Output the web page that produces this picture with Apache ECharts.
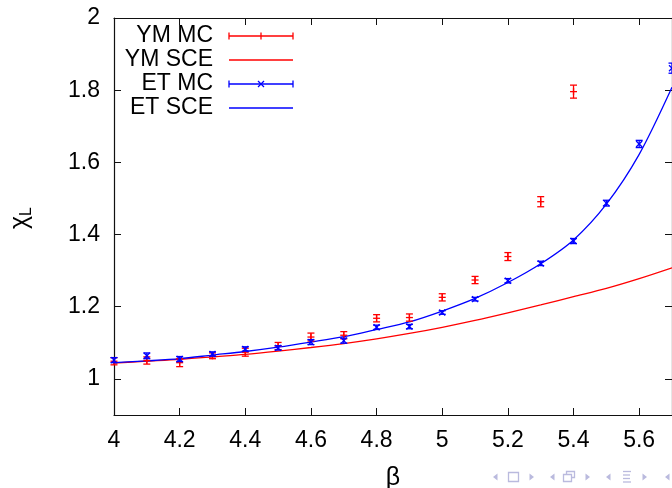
<!DOCTYPE html>
<html>
<head>
<meta charset="utf-8">
<script src="https://cdn.jsdelivr.net/npm/echarts@6/dist/echarts.min.js"></script>
<style>html,body{margin:0;padding:0;background:#fff}#c{width:672px;height:488px}</style>
</head>
<body>
<div id="c"></div>
<script>
// ---- data ----
const betaYM = [4.0, 4.1, 4.2, 4.3, 4.4, 4.5, 4.6, 4.7, 4.8, 4.9, 5.0, 5.1, 5.2, 5.3, 5.4];
const ymMC   = [1.049, 1.051, 1.045, 1.064, 1.074, 1.091, 1.116, 1.121, 1.168, 1.170, 1.226, 1.274, 1.339, 1.491, 1.796];
const ymErr  = [0.010, 0.010, 0.011, 0.008, 0.011, 0.010, 0.011, 0.010, 0.010, 0.010, 0.010, 0.010, 0.011, 0.014, 0.018];

const betaET = [4.0, 4.1, 4.2, 4.3, 4.4, 4.5, 4.6, 4.7, 4.8, 4.9, 5.0, 5.1, 5.2, 5.3, 5.4, 5.5, 5.6, 5.7];
const etMC   = [1.052, 1.064, 1.055, 1.069, 1.083, 1.086, 1.102, 1.106, 1.143, 1.145, 1.184, 1.221, 1.272, 1.320, 1.382, 1.487, 1.651, 1.861];
const etErr  = [0.007, 0.008, 0.007, 0.006, 0.006, 0.006, 0.007, 0.007, 0.006, 0.006, 0.005, 0.005, 0.006, 0.006, 0.007, 0.008, 0.010, 0.014];

const betaSCE = [4.0, 4.1, 4.2, 4.3, 4.4, 4.5, 4.6, 4.7, 4.8, 4.9, 5.0, 5.1, 5.2, 5.3, 5.4, 5.5, 5.6, 5.7];
const ymSCE   = [1.044, 1.049, 1.054, 1.061, 1.068, 1.077, 1.087, 1.098, 1.111, 1.126, 1.143, 1.162, 1.183, 1.205, 1.228, 1.251, 1.278, 1.308];
const etSCE   = [1.045, 1.050, 1.056, 1.066, 1.076, 1.088, 1.102, 1.117, 1.137, 1.158, 1.188, 1.223, 1.267, 1.319, 1.385, 1.484, 1.622, 1.808];

const xTicks = [4, 4.2, 4.4, 4.6, 4.8, 5, 5.2, 5.4, 5.6];
const yTicks = [1, 1.2, 1.4, 1.6, 1.8, 2];
const legendNames = ['YM MC', 'YM SCE', 'ET MC', 'ET SCE'];

const RED = '#ff0000', BLUE = '#0000ff';
const FONT = 'Liberation Sans';

function zip3(xs, ys, es) { return xs.map((x, i) => [x, ys[i], es[i]]); }
function zip2(xs, ys) { return xs.map((x, i) => [x, ys[i]]); }

function errRender(color, marker) {
  return function (params, api) {
    const x = api.value(0), y = api.value(1), e = api.value(2);
    const p = api.coord([x, y]);
    const lo = api.coord([x, y - e]);
    const hi = api.coord([x, y + e]);
    const cw = 3.5;
    const st = { stroke: color, lineWidth: 1.3 };
    const ch = [
      { type: 'line', shape: { x1: p[0], y1: lo[1], x2: p[0], y2: hi[1] }, style: st },
      { type: 'line', shape: { x1: p[0] - cw, y1: lo[1], x2: p[0] + cw, y2: lo[1] }, style: st },
      { type: 'line', shape: { x1: p[0] - cw, y1: hi[1], x2: p[0] + cw, y2: hi[1] }, style: st }
    ];
    if (marker === '+') {
      ch.push({ type: 'line', shape: { x1: p[0] - 3.5, y1: p[1], x2: p[0] + 3.5, y2: p[1] }, style: st });
      ch.push({ type: 'line', shape: { x1: p[0], y1: p[1] - 3.5, x2: p[0], y2: p[1] + 3.5 }, style: st });
    } else {
      ch.push({ type: 'line', shape: { x1: p[0] - 3, y1: p[1] - 3, x2: p[0] + 3, y2: p[1] + 3 }, style: st });
      ch.push({ type: 'line', shape: { x1: p[0] - 3, y1: p[1] + 3, x2: p[0] + 3, y2: p[1] - 3 }, style: st });
    }
    return { type: 'group', children: ch };
  };
}

// legend graphics
const legY = [36, 60, 84, 108];
const legColors = [RED, RED, BLUE, BLUE];
const graphics = [];
legendNames.forEach((n, i) => {
  const y = legY[i], c = legColors[i];
  graphics.push({ type: 'text', x: 213, y: y, style: { text: n, font: '23px ' + FONT, fill: '#000', align: 'right', verticalAlign: 'middle' } });
  graphics.push({ type: 'line', shape: { x1: 229, y1: y, x2: 293, y2: y }, style: { stroke: c, lineWidth: 1.3 } });
  if (i === 0 || i === 2) {
    graphics.push({ type: 'line', shape: { x1: 229, y1: y - 3.5, x2: 229, y2: y + 3.5 }, style: { stroke: c, lineWidth: 1.3 } });
    graphics.push({ type: 'line', shape: { x1: 293, y1: y - 3.5, x2: 293, y2: y + 3.5 }, style: { stroke: c, lineWidth: 1.3 } });
    if (i === 0) {
      graphics.push({ type: 'line', shape: { x1: 261, y1: y - 3.5, x2: 261, y2: y + 3.5 }, style: { stroke: c, lineWidth: 1.3 } });
    } else {
      graphics.push({ type: 'line', shape: { x1: 258, y1: y - 3, x2: 264, y2: y + 3 }, style: { stroke: c, lineWidth: 1.3 } });
      graphics.push({ type: 'line', shape: { x1: 258, y1: y + 3, x2: 264, y2: y - 3 }, style: { stroke: c, lineWidth: 1.3 } });
    }
  }
});
// axis titles
graphics.push({ type: 'text', x: 20, y: 218, rotation: Math.PI / 2,
  style: { text: '{c|χ}{s|L}', align: 'center', verticalAlign: 'middle',
    rich: { c: { font: '25px ' + FONT, fill: '#000', lineHeight: 30 }, s: { font: '16px ' + FONT, fill: '#000', lineHeight: 30, verticalAlign: 'bottom' } } } });
graphics.push({ type: 'text', x: 393, y: 478, style: { text: 'β', font: '25px ' + FONT, fill: '#000', align: 'center', verticalAlign: 'middle' } });

// beamer navigation symbols
const NAV = '#babade';
function triL(x, y) { return { type: 'polygon', shape: { points: [[x + 2.5, y - 3.5], [x - 2, y], [x + 2.5, y + 3.5]] }, style: { fill: NAV } }; }
function triR(x, y) { return { type: 'polygon', shape: { points: [[x - 2.5, y - 3.5], [x + 2, y], [x - 2.5, y + 3.5]] }, style: { fill: NAV } }; }
const ny = 477;
graphics.push(triL(495, ny), triR(532, ny), triL(552, ny), triR(588, ny), triL(608, ny), triR(645, ny), triL(667, ny));
graphics.push({ type: 'rect', shape: { x: 508.5, y: 472.5, width: 10, height: 9 }, style: { fill: 'none', stroke: NAV, lineWidth: 1.3 } });
graphics.push({ type: 'rect', shape: { x: 566.5, y: 471.5, width: 8, height: 6 }, style: { fill: '#fff', stroke: NAV, lineWidth: 1.3 } });
graphics.push({ type: 'rect', shape: { x: 563.5, y: 474.5, width: 8, height: 7 }, style: { fill: '#fff', stroke: NAV, lineWidth: 1.3 } });
[471.5, 475, 478.5, 482].forEach((yy, k) => {
  graphics.push({ type: 'line', shape: { x1: 623, y1: yy, x2: k % 3 === 0 ? 631 : 630, y2: yy }, style: { stroke: NAV, lineWidth: 1.3 } });
});

const axisLineStyle = { color: '#111', width: 1.2 };
const tickStyle = { color: '#111', width: 1 };

const option = {
  animation: false,
  backgroundColor: '#fff',
  grid: { left: 114, top: 18, right: -1, bottom: 73, containLabel: false },
  xAxis: [
    { type: 'value', position: 'bottom', min: 4, max: 5.7,
      axisLine: { show: true, onZero: false, lineStyle: axisLineStyle },
      axisTick: { show: true, inside: true, length: 7, lineStyle: tickStyle, customValues: xTicks },
      axisLabel: { show: true, customValues: xTicks, margin: 14, fontSize: 23, fontFamily: FONT, color: '#000' },
      splitLine: { show: false } },
    { type: 'value', position: 'top', min: 4, max: 5.7,
      axisLine: { show: true, onZero: false, lineStyle: axisLineStyle },
      axisTick: { show: true, inside: true, length: 7, lineStyle: tickStyle, customValues: xTicks },
      axisLabel: { show: false },
      splitLine: { show: false } }
  ],
  yAxis: [
    { type: 'value', position: 'left', min: 0.9, max: 2,
      axisLine: { show: true, onZero: false, lineStyle: axisLineStyle },
      axisTick: { show: true, inside: true, length: 7, lineStyle: tickStyle, customValues: yTicks },
      axisLabel: { show: true, customValues: yTicks, margin: 14, fontSize: 23, fontFamily: FONT, color: '#000' },
      splitLine: { show: false } },
    { type: 'value', position: 'right', min: 0.9, max: 2,
      axisLine: { show: true, onZero: false, lineStyle: axisLineStyle },
      axisTick: { show: true, inside: true, length: 7, lineStyle: tickStyle, customValues: yTicks },
      axisLabel: { show: false },
      splitLine: { show: false } }
  ],
  series: [
    { name: legendNames[1], type: 'line', data: zip2(betaSCE, ymSCE), smooth: 0.3, showSymbol: false, symbol: 'none',
      lineStyle: { color: RED, width: 1.3 }, z: 2 },
    { name: legendNames[3], type: 'line', data: zip2(betaSCE, etSCE), smooth: 0.3, showSymbol: false, symbol: 'none',
      lineStyle: { color: BLUE, width: 1.3 }, z: 2 },
    { name: legendNames[0], type: 'custom', data: zip3(betaYM, ymMC, ymErr), renderItem: errRender(RED, '+'), z: 3 },
    { name: legendNames[2], type: 'custom', data: zip3(betaET, etMC, etErr), renderItem: errRender(BLUE, 'x'), z: 4 }
  ],
  graphic: graphics
};

const chart = echarts.init(document.getElementById('c'), null, { renderer: 'canvas' });
chart.setOption(option);
</script>
</body>
</html>
